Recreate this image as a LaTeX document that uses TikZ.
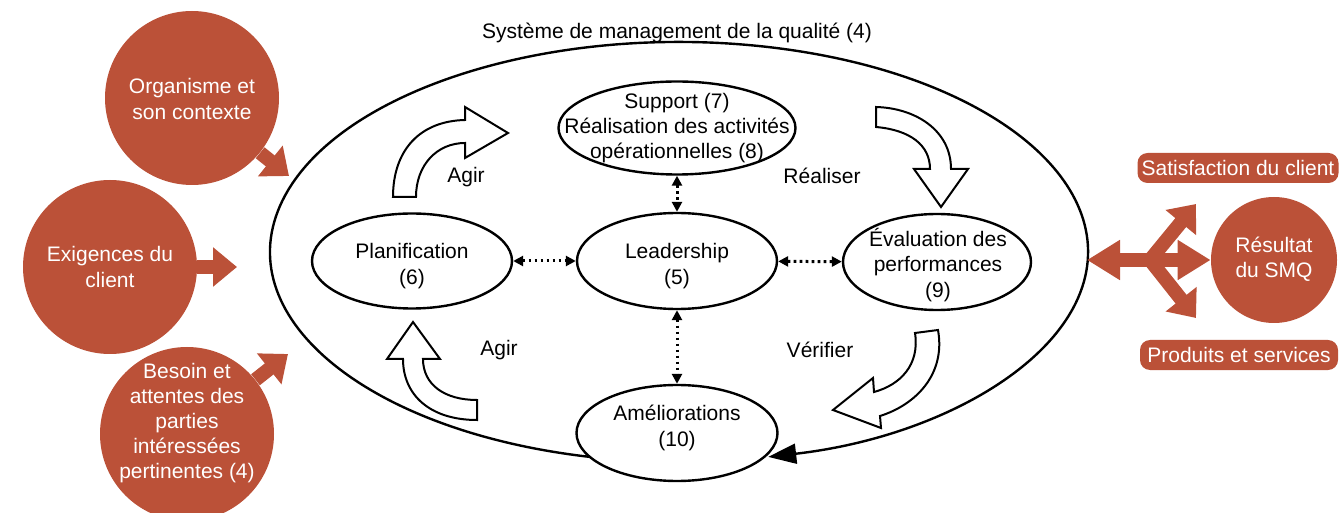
\documentclass[tikz,border=0pt]{standalone}
\usepackage{fontspec}
\setmainfont{Liberation Sans}
\usetikzlibrary{shapes, arrows.meta, positioning}
\definecolor{brique}{RGB}{187,81,56}

\begin{document}
\begin{tikzpicture}
  [
  x = 0.5pt, y = -0.5pt,
  font = \fontsize{10.5}{12.6}\selectfont,
  % ellipse
  etape/.style = {ellipse, draw, line width = 1.2pt, fill = white,
    inner sep = 0pt},
  texte/.style = {align = center, inner sep = 0pt},
  % disque
  entree/.style = {circle, fill = brique, minimum size = 87pt,
    inner sep = 0pt},
  sortie/.style = {rectangle, rounded corners = 5pt, fill = brique,
    text = white, minimum height = 15pt, inner sep = 0pt},
  % lines
  pointille/.style = {draw, line width = 1.5pt,
    dash pattern = on 1.4pt off 1.6pt,
    {Triangle[length = 5pt, width = 5pt]}-{Triangle[length = 5pt, width = 5pt]}},
  boucle/.style = {draw, line width = 1.2pt,
    -{Triangle[length = 14pt, width = 10pt]}},
  fleche/.style = {draw = brique, line width = 7pt,
    -{Triangle[length = 12pt, width = 19pt]}},
  double/.style = {draw = brique, line width = 7pt,
    {Triangle[length = 16.5pt, width = 19pt]}-{Triangle[length = 16.5pt, width = 19pt]}},
  creuse/.style = {draw, line width = 1pt, fill = white, line join = miter},
  ]

  \useasboundingbox (0,0) rectangle (1339,513);

  % boucle
  \path [boucle] (589.8,456.9)
    arc [start angle = 102.6, end angle = 437.4, x radius = 409, y radius = 210];
  \node (titre) at (677,33) {Système de management de la qualité (4)};

  % nodes
  \node [etape, minimum width = 118.5pt, minimum height = 46.5pt] (supp) at (677,128) {};
  \node [texte] (supp-t) at (677,128) {Support (7)\\Réalisation des activités\\opérationnelles (8)};
  \node [etape, minimum width = 100pt, minimum height = 47.5pt] (plan) at (412,261) {};
  \node [texte] (plan-t) at (412,266) {Planification\\(6)};
  \node [etape, minimum width = 100pt, minimum height = 48pt] (lead) at (677,261) {};
  \node [texte] (lead-t) at (677,266) {Leadership\\(5)};
  \node [etape, minimum width = 94pt, minimum height = 48pt] (eval) at (937,262) {};
  \node [texte] (eval-t) at (938,265) {Évaluation des\\performances\\(9)};
  \node [etape, minimum width = 100.5pt, minimum height = 48pt] (amel) at (677,433) {};
  \node [texte] (amel-t) at (677,428) {Améliorations\\(10)};

  \node (agir-h) at (466,177) {Agir};
  \node (realiser) at (822,176) {Réaliser};
  \node (agir-b) at (499,350) {Agir};
  \node (verifier) at (820,350) {Vérifier};

  % path
  \path [pointille] (plan) -- (lead);
  \path [pointille] (lead) -- (eval);
  \path [pointille] (supp) -- (lead);
  \path [pointille] (lead) -- (amel);

  % fleches creuses
  \path [creuse] (393,197) .. controls (393,150) and (420,121) .. (465,120)
    -- (465,107) -- (508,133) -- (465,158) -- (465,143)
    .. controls (437,143) and (416,165) .. (416,197) -- cycle;
  \path [creuse] (876,107) -- (876,127)
    .. controls (910,130) and (930,145) .. (930,169)
    -- (914,169) -- (941,207) -- (968,169) -- (951,169)
    .. controls (951,130) and (915,108) .. (876,107) -- cycle;
  \path [creuse] (915,333) -- (938,330)
    .. controls (946,375) and (915,405) .. (880,416)
    -- (881,428) -- (833,410) -- (873,378) -- (874,392)
    .. controls (900,385) and (920,365) .. (915,333) -- cycle;
  \path [creuse] (477,400) -- (477,420)
    .. controls (430,420) and (403,395) .. (403,359)
    -- (387,359) -- (413,322) -- (440,359) -- (423,359)
    .. controls (423,385) and (445,400) .. (477,400) -- cycle;

  % entrees
  \node [entree] (orga) at (192,98) {};
  \node [texte, text = white] (orga-t) at (192,99) {Organisme et\\son contexte};
  \node [entree] (exig) at (110,267) {};
  \node [texte, text = white] (exig-t) at (110,267) {Exigences du\\client};
  \node [entree] (besoin) at (187,434) {};
  \node [texte, text = white] (besoin-t) at (187,423) {Besoin et\\attentes des\\parties\\intéressées\\pertinentes (4)};
  \coordinate (orga-p) at (289,176);
  \coordinate (exig-p) at (237,267);
  \coordinate (besoin-p) at (288,354);
  \path [fleche] (orga) -- (orga-p);
  \path [fleche] (exig) -- (exig-p);
  \path [fleche] (besoin) -- (besoin-p);

  % sorties
  \node [entree, minimum size = 63pt] (result) at (1274,260) {};
  \node [texte, text = white] (result-t) at (1274,259) {Résultat\\du SMQ};
  \node [sortie, minimum width = 100.5pt] (satis) at (1238,168) {Satisfaction du client};
  \node [sortie, minimum width = 99pt] (prod) at (1239,355) {Produits et services};
  \coordinate (retour) at (1087,260);
  \coordinate (noeud) at (1150,260);
  \coordinate (haut) at (1196,204);
  \coordinate (bas) at (1196,318);
  \path [double] (retour) -- (result);
  \path [fleche] (noeud) -- (haut);
  \path [fleche] (noeud) -- (bas);

\end{tikzpicture}
\end{document}
